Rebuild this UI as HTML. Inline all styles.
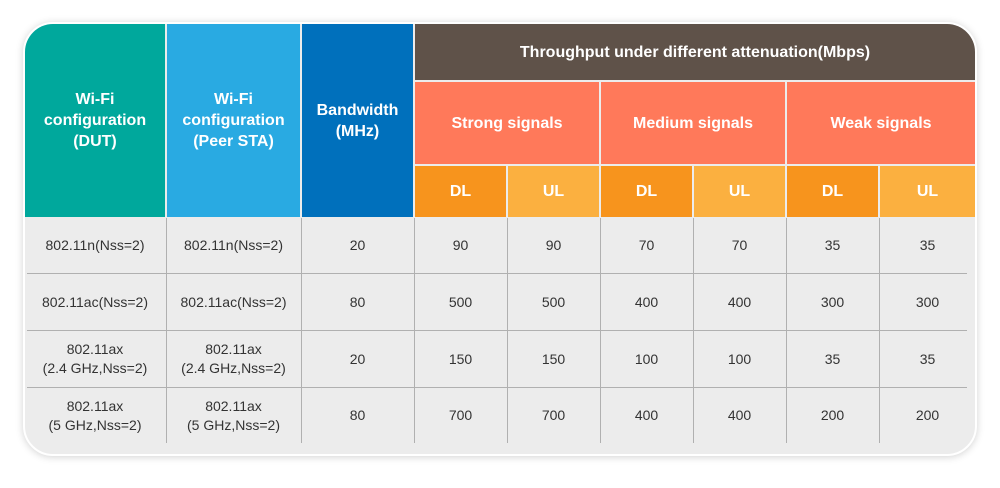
<!DOCTYPE html>
<html><head><meta charset="utf-8"><style>
body{margin:0;width:1000px;height:488px;background:#fff;position:relative;overflow:hidden;font-family:"Liberation Sans",Arial,sans-serif}
#card{position:absolute;left:23px;top:22px;width:950px;height:430px;border:2px solid #fff;border-radius:30px;background:#ececec;box-shadow:0 1px 8px rgba(0,0,0,0.18);overflow:hidden}
.c{position:absolute;display:flex;align-items:center;justify-content:center;text-align:center;box-sizing:border-box}
.h{color:#fff;font-weight:bold;font-size:16px;line-height:21px}
.b{color:#333;font-size:14px;line-height:19px}
.vl{position:absolute;width:1px;background:#b0b0b0}
.hl{position:absolute;height:1px;background:#b0b0b0}
</style></head><body>
<div id="card"></div>
<script>
const card=document.getElementById('card');
const OX=25, OY=24;
const cols=[[25,165],[167,300],[302,413],[415,506],[508,599],[601,692],[694,785],[787,878],[880,975]];
const rowsY=[[218,273],[274,330],[331,387],[388,452]];
const cfgDut=['802.11n(Nss=2)','802.11ac(Nss=2)','802.11ax<br>(2.4 GHz,Nss=2)','802.11ax<br>(5 GHz,Nss=2)'];
const cfgPeer=['802.11n(Nss=2)','802.11ac(Nss=2)','802.11ax<br>(2.4 GHz,Nss=2)','802.11ax<br>(5 GHz,Nss=2)'];
const bandwidth=['20','80','20','80'];
const strongDL=[90,500,150,700];
const strongUL=[90,500,150,700];
const mediumDL=[70,400,100,400];
const mediumUL=[70,400,100,400];
const weakDL=[35,300,35,200];
const weakUL=[35,300,35,200];
function cell(x1,y1,x2,y2,bg,cls,html,name){
  const d=document.createElement('div');
  d.className='c '+cls;
  d.style.left=(x1-OX)+'px';d.style.top=(y1-OY)+'px';
  d.style.width=(x2-x1)+'px';d.style.height=(y2-y1)+'px';
  if(bg)d.style.background=bg;
  d.innerHTML=html;
  
  
  card.appendChild(d);return d;
}
cell(25,24,165,217,'#00a89c','h','Wi-Fi<br>configuration<br>(DUT)','header-dut-config');
cell(167,24,300,217,'#29aae2','h','Wi-Fi<br>configuration<br>(Peer STA)','header-peer-config');
cell(302,24,413,217,'#0070bc','h','Bandwidth<br>(MHz)','header-bandwidth');
cell(415,24,975,80,'#5f5249','h','Throughput under different attenuation(Mbps)','header-throughput');
cell(415,82,599,164,'#ff795a','h','Strong signals','header-strong');
cell(601,82,785,164,'#ff795a','h','Medium signals','header-medium');
cell(787,82,975,164,'#ff795a','h','Weak signals','header-weak');
for(let i=0;i<6;i++){
  const c=cols[3+i], dl=i%2==0;
  cell(c[0],166,c[1],217,dl?'#f7941d':'#fbb040','h',dl?'DL':'UL',dl?'header-dl':'header-ul');
}
const data=[cfgDut,cfgPeer,bandwidth,strongDL,strongUL,mediumDL,mediumUL,weakDL,weakUL];
for(let r=0;r<4;r++){
  for(let k=0;k<9;k++){
    const c=cols[k];
    cell(c[0],rowsY[r][0],c[1],r==3?443:rowsY[r][1],null,'b',String(data[k][r]),'cell-r'+(r+1)+'-c'+(k+1));
  }
}
for(let k=1;k<9;k++){
  const v=document.createElement('div');v.className='vl';
  v.style.left=(cols[k][0]-1-OX)+'px';v.style.top=(218-OY)+'px';v.style.height='225px';
  
  
  card.appendChild(v);
}
[273,330,387].forEach(y=>{
  const h=document.createElement('div');h.className='hl';
  h.style.left='2px';h.style.top=(y-OY)+'px';h.style.width='940px';
  
  
  card.appendChild(h);
});
</script>
</body></html>
